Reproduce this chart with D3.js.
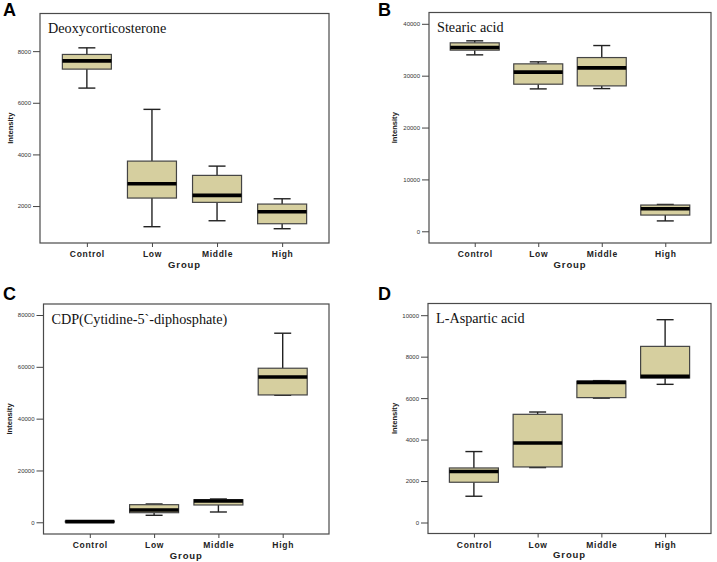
<!DOCTYPE html>
<html>
<head>
<meta charset="utf-8">
<script src="https://cdn.jsdelivr.net/npm/d3@7"></script>
<style>
    body { margin: 0; background: #fff; }
    svg { display: block; }
</style>
</head>
<body>
<div id="chart"></div>
<script>
    // Groups shared by all four panels
    const groups = ["Control", "Low", "Middle", "High"];

    // Box stats per group: [min, q1, median, q3, max]
    const deoxyStats = [[6569, 7304, 7625, 7872, 8128], [1200, 2310, 2863, 3741, 5745], [1431, 2143, 2414, 3188, 3547], [1122, 1315, 1780, 2077, 2282]];
    const stearicStats = [[34015, 34923, 35425, 36332, 36718], [27452, 28359, 30676, 32278, 32664], [27510, 28031, 31506, 33494, 35811], [2000, 3127, 4344, 5058, 5174]];
    const cdpStats = [[0, 100, 250, 450, 500], [2703, 3707, 4749, 6795, 7066], [3977, 6680, 8224, 8726, 8996], [49000, 49150, 56100, 59459, 72973]];
    const aspStats = [[1267, 1942, 2458, 2631, 3422], [2650, 2680, 3836, 5219, 5330], [6000, 6024, 6761, 6820, 6843], [6665, 6969, 7051, 8496, 9783]];

    // Axis domains and tick labels
    const deoxyDomain = [569, 9458];
    const stearicDomain = [-2259, 42181];
    const cdpDomain = [-4517, 84247];
    const aspDomain = [-530, 10564];
    const deoxyTicks = [2000, 4000, 6000, 8000];
    const stearicTicks = [0, 10000, 20000, 30000, 40000];
    const cdpTicks = [0, 20000, 40000, 60000, 80000];
    const aspTicks = [0, 2000, 4000, 6000, 8000, 10000];

    const letters = ["A", "B", "C", "D"];
    const titles = ["Deoxycorticosterone", "Stearic acid", "CDP(Cytidine-5`-diphosphate)", "L-Aspartic acid"];

    const BOX_WIDTH = 49;
    const CAP_WIDTH = 17;
    const FILL_COLOR = "#d6cf9f";
    const SANS = "'Liberation Sans', Arial, sans-serif";
    const SERIF = "'Liberation Serif', 'Times New Roman', serif";

    var width = 717, height = 562;

    var svg = d3.select("#chart").append("svg")
        .attr("width", width)
        .attr("height", height);

    // frame: left, right, top, bottom; labelX: x of the rotated y title
    var panels = [
        { stats: deoxyStats, domain: deoxyDomain, ticks: deoxyTicks, frame: [40, 329, 13.5, 243], letterPos: [3, 16], labelX: 13 },
        { stats: stearicStats, domain: stearicDomain, ticks: stearicTicks, frame: [429, 711, 12.5, 243], letterPos: [378, 16], labelX: 397 },
        { stats: cdpStats, domain: cdpDomain, ticks: cdpTicks, frame: [43.5, 329, 304, 534], letterPos: [3, 300], labelX: 12 },
        { stats: aspStats, domain: aspDomain, ticks: aspTicks, frame: [428, 711, 303.5, 533.5], letterPos: [378, 300], labelX: 397 }
    ];

    function drawPanel(p, i) {
        var [x0, x1, y0, y1] = p.frame;
        var g = svg.append("g");

        var x = d3.scalePoint().domain(groups).range([x0, x1]).padding(0.72);
        var y = d3.scaleLinear().domain(p.domain).range([y1, y0]);

        // y axis ticks
        var yAxis = g.append("g")
            .attr("transform", `translate(${x0},0)`)
            .call(d3.axisLeft(y).tickValues(p.ticks).tickSize(7).tickPadding(2).tickFormat(d3.format("d")));
        yAxis.select(".domain").remove();
        yAxis.selectAll("line").attr("stroke", "#444");
        yAxis.selectAll("text")
            .attr("font-family", SANS)
            .attr("font-size", 6)
            .attr("fill", "#333");

        // x axis ticks
        var xAxis = g.append("g")
            .attr("transform", `translate(0,${y1})`)
            .call(d3.axisBottom(x).tickSize(4).tickPadding(4));
        xAxis.select(".domain").remove();
        xAxis.selectAll("line").attr("stroke", "#444");
        xAxis.selectAll("text")
            .attr("font-family", SANS)
            .attr("font-weight", "bold")
            .attr("font-size", 8.5)
            .attr("letter-spacing", 0.7)
            .attr("fill", "#222");

        // frame
        g.append("rect")
            .attr("x", x0).attr("y", y0)
            .attr("width", x1 - x0).attr("height", y1 - y0)
            .attr("fill", "none")
            .attr("stroke", "#4a4a4a")
            .attr("stroke-width", 1.2);

        var box = g.selectAll(".box")
            .data(p.stats)
            .enter().append("g")
            .attr("class", "box")
            .attr("transform", (d, j) => `translate(${x(groups[j])},0)`);

        // whiskers
        box.append("line")
            .attr("y1", d => y(d[0])).attr("y2", d => y(d[1]))
            .attr("stroke", "#222").attr("stroke-width", 1.4);
        box.append("line")
            .attr("y1", d => y(d[3])).attr("y2", d => y(d[4]))
            .attr("stroke", "#222").attr("stroke-width", 1.4);
        box.selectAll(".cap")
            .data(d => [d[0], d[4]])
            .enter().append("line")
            .attr("x1", -CAP_WIDTH / 2).attr("x2", CAP_WIDTH / 2)
            .attr("y1", v => y(v)).attr("y2", v => y(v))
            .attr("stroke", "#222").attr("stroke-width", 1.4);

        // box body
        box.append("rect")
            .attr("x", -BOX_WIDTH / 2)
            .attr("width", BOX_WIDTH)
            .attr("y", d => y(d[3]))
            .attr("height", d => Math.max(0.5, y(d[1]) - y(d[3])))
            .attr("fill", FILL_COLOR)
            .attr("stroke", "#444")
            .attr("stroke-width", 1.2);

        // median
        box.append("line")
            .attr("x1", -BOX_WIDTH / 2).attr("x2", BOX_WIDTH / 2)
            .attr("y1", d => y(d[2])).attr("y2", d => y(d[2]))
            .attr("stroke", "#000").attr("stroke-width", 3.6);

        // compound title
        g.append("text")
            .attr("x", x0 + 8)
            .attr("y", y0 + 19.5)
            .attr("font-family", SERIF)
            .attr("font-size", 14.2)
            .attr("fill", "#111")
            .text(titles[i]);

        // panel letter
        g.append("text")
            .attr("x", p.letterPos[0])
            .attr("y", p.letterPos[1])
            .attr("font-family", SANS)
            .attr("font-weight", "bold")
            .attr("font-size", 18)
            .attr("fill", "#000")
            .text(letters[i]);

        // axis titles
        g.append("text")
            .attr("x", (x0 + x1) / 2)
            .attr("y", y1 + 24.5)
            .attr("text-anchor", "middle")
            .attr("font-family", SANS)
            .attr("font-weight", "bold")
            .attr("font-size", 9.5)
            .attr("letter-spacing", 0.9)
            .attr("fill", "#222")
            .text("Group");

        g.append("text")
            .attr("transform", `translate(${p.labelX},${(y0 + y1) / 2}) rotate(-90)`)
            .attr("text-anchor", "middle")
            .attr("font-family", SANS)
            .attr("font-weight", "bold")
            .attr("font-size", 7.6)
            .attr("fill", "#222")
            .text("Intensity");
    }

    panels.forEach(drawPanel);
</script>
</body>
</html>
